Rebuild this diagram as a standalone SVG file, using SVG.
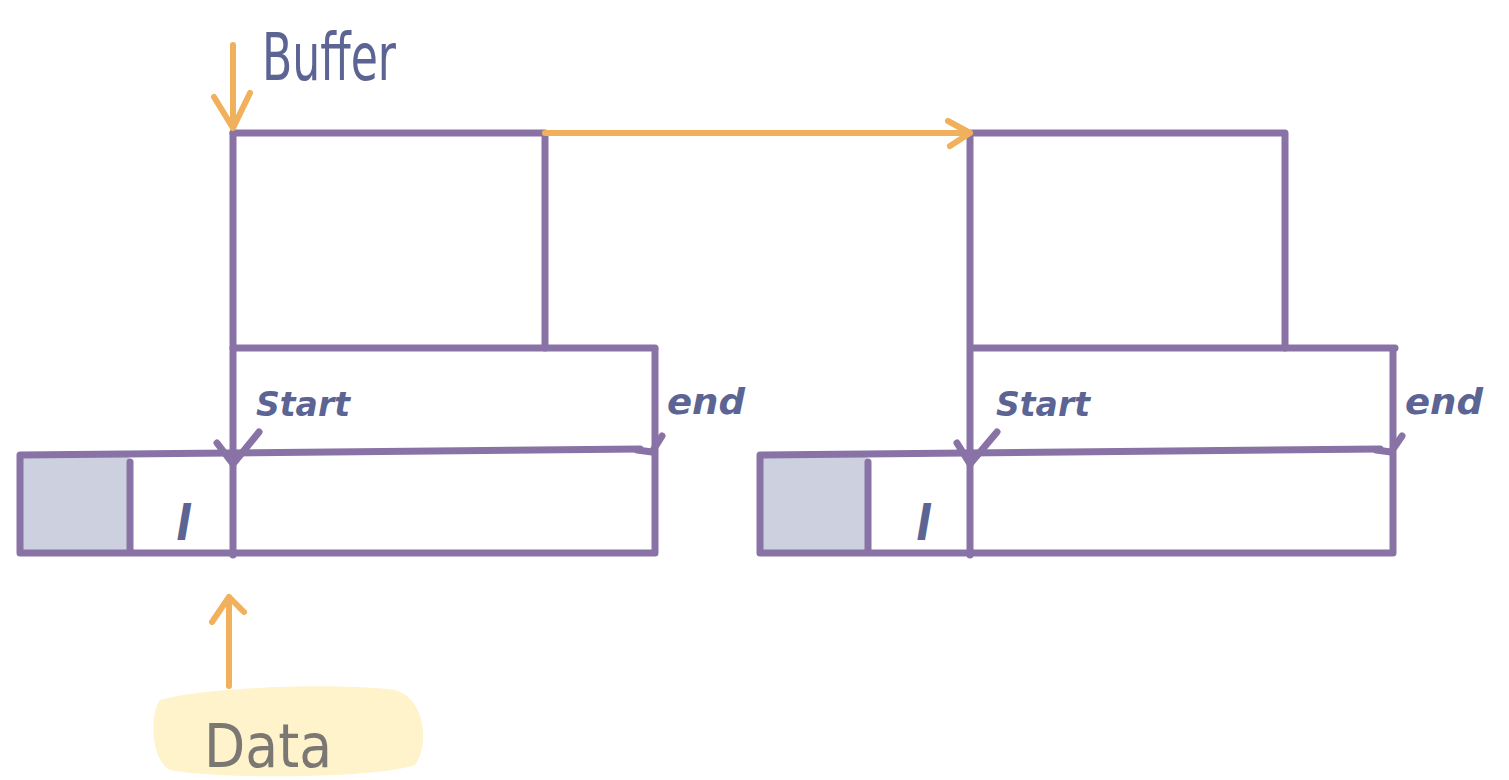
<svg xmlns="http://www.w3.org/2000/svg" width="1509" height="780" viewBox="0 0 1509 780">
<style>
.p{fill:none;stroke:#8973a6;stroke-width:7;stroke-linecap:round;stroke-linejoin:round}
.o{fill:none;stroke:#f0b05c;stroke-width:6;stroke-linecap:round;stroke-linejoin:round}
.g{fill:#cdd0de;stroke:none}
.t{font-family:"DejaVu Sans Condensed","DejaVu Sans",sans-serif;fill:#5c6494;font-style:italic;font-weight:bold}
.d{font-family:"DejaVu Sans Condensed","DejaVu Sans",sans-serif;fill:#7b7873}
</style>
<rect width="1509" height="780" fill="#ffffff"/>
<g id="buffer-label"><text class="t" x="262" y="80" font-size="66" style="font-weight:normal;font-style:normal" textLength="134" lengthAdjust="spacingAndGlyphs">Buffer</text></g>
<g id="data-node">
<path d="M160,700 C200,688 330,682 395,690 C425,698 430,745 415,765 C380,778 220,780 170,770 C150,760 150,712 160,700 Z" fill="#fff3cc"/>
<text class="d" x="204" y="767" font-size="60" textLength="128" lengthAdjust="spacingAndGlyphs">Data</text>
</g>
<g id="left-structure">
<rect class="g" x="22" y="455" width="108" height="100" rx="6"/>
<path class="p" d="M233,133 H545 V348"/>
<path class="p" d="M233,348 H655"/>
<path class="p" d="M20,455 L640,449 M20,455 V553 H655 V349"/>
<path class="p" d="M130,462 V550"/>
<path class="p" d="M233,133 V555"/>
<text class="t" x="256" y="416" font-size="34" textLength="94" lengthAdjust="spacingAndGlyphs">Start</text>
<text class="t" x="667" y="414" font-size="36" textLength="78" lengthAdjust="spacingAndGlyphs">end</text>
<text class="t" x="176" y="540" font-size="48">l</text>
</g>
<g id="right-structure">
<rect class="g" x="762" y="455" width="106" height="100" rx="6"/>
<path class="p" d="M973,133 H1285 V348"/>
<path class="p" d="M973,348 H1395"/>
<path class="p" d="M760,455 L1380,449 M760,455 V553 H1393 V349"/>
<path class="p" d="M868,462 V550"/>
<path class="p" d="M970,133 V555"/>
<text class="t" x="996" y="416" font-size="34" textLength="94" lengthAdjust="spacingAndGlyphs">Start</text>
<text class="t" x="1405" y="414" font-size="36" textLength="78" lengthAdjust="spacingAndGlyphs">end</text>
<text class="t" x="916" y="540" font-size="48">l</text>
</g>
<g id="connectors">
<path class="o" d="M545,133 H970 M948,121 L970,133 L950,146"/>
<path class="o" d="M233,45 V128 M214,97 L233,128 L250,93"/>
<path class="o" d="M229,686 V597 M212,622 L229,597 L244,612"/>
<path class="p" stroke-width="9" d="M217,443 L233,464 L259,432"/>
<path class="p" stroke-width="9" d="M637,450 L652,452 L662,436"/>
<path class="p" stroke-width="9" d="M957,443 L970,464 L997,432"/>
<path class="p" stroke-width="9" d="M1376,450 L1391,452 L1402,436"/>
</g>
</svg>
